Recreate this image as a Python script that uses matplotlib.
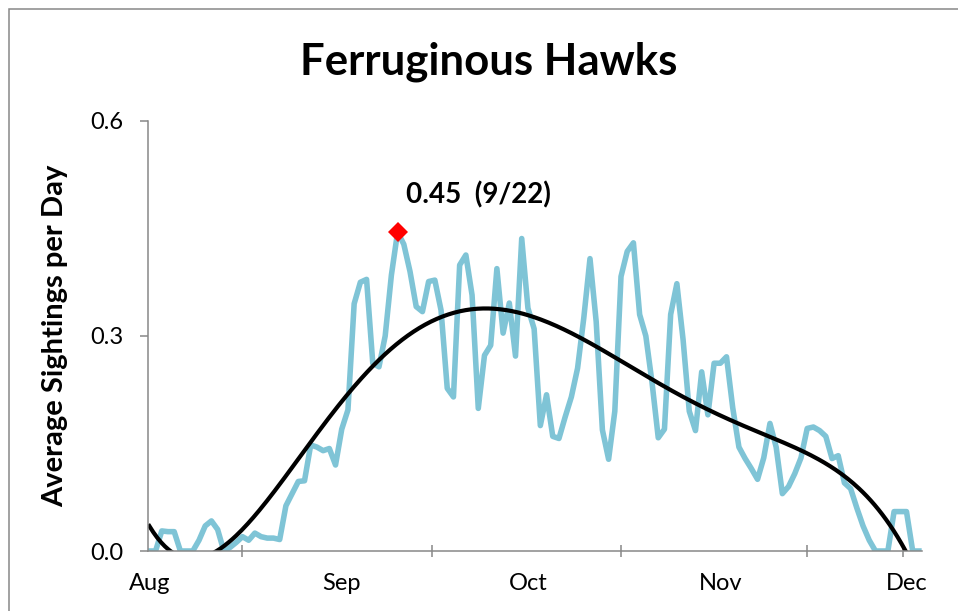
import numpy as np
import matplotlib
matplotlib.use("Agg")
import matplotlib.pyplot as plt
from matplotlib.patches import Rectangle

plt.rcParams['font.family'] = ['Lato', 'DejaVu Sans']

# daily average sightings, Aug 1 .. Dec 3
sightings = [
    0.000, 0.000, 0.028, 0.027, 0.027, 0.000, 0.000, 0.000, 0.015, 0.035,
    0.042, 0.030, 0.000, 0.005, 0.012, 0.020, 0.015, 0.025, 0.020, 0.018,
    0.018, 0.016, 0.063, 0.080, 0.097, 0.098, 0.148, 0.145, 0.140, 0.143,
    0.120, 0.170, 0.197, 0.345, 0.375, 0.379, 0.262, 0.257, 0.300, 0.385,
    0.445, 0.428, 0.390, 0.341, 0.334, 0.376, 0.378, 0.336, 0.227, 0.215,
    0.399, 0.413, 0.357, 0.199, 0.273, 0.287, 0.394, 0.304, 0.346, 0.272,
    0.436, 0.339, 0.310, 0.175, 0.218, 0.160, 0.157, 0.187, 0.215, 0.255,
    0.325, 0.408, 0.320, 0.169, 0.128, 0.195, 0.383, 0.418, 0.430, 0.330,
    0.300, 0.235, 0.158, 0.170, 0.330, 0.373, 0.295, 0.195, 0.168, 0.250,
    0.190, 0.262, 0.262, 0.271, 0.200, 0.145, 0.129, 0.115, 0.100, 0.130,
    0.178, 0.145, 0.080, 0.090, 0.108, 0.130, 0.171, 0.173, 0.168, 0.160,
    0.129, 0.133, 0.095, 0.087, 0.060, 0.035, 0.015, 0.000, 0.000, 0.000,
    0.055, 0.055, 0.055, 0.000, 0.000,
]
days = np.arange(len(sightings))

month_labels = ["Aug", "Sep", "Oct", "Nov", "Dec"]
month_starts = [0, 31, 61, 92, 122]
tick_days = [15, 45.5, 76, 106, 121.5]
peak_label = "0.45  (9/22)"

# polynomial trendline (order 5, like Excel's)
coef = np.polyfit(days, sightings, 5)
trend_x = np.linspace(0, days[-1], 400)
trend_y = np.polyval(coef, trend_x)

fig = plt.figure(figsize=(9.58, 6.11), dpi=100)
ax = fig.add_axes([147.5 / 958, 60 / 611, (922 - 147.5) / 958, 430 / 611])

gray = "#888888"
ax.plot(days, sightings, color="#7FC4D6", lw=4.0)
ax.plot(trend_x, trend_y, color="black", lw=3.0)

peak = int(np.argmax(sightings))
ax.plot(days[peak], sightings[peak], marker="D", color="red", ms=10.5, mew=0)
ax.annotate(peak_label, (days[peak], sightings[peak]), xytext=(6, 27),
            textcoords="offset points", ha="left", va="center",
            fontsize=20, fontweight="bold")

ax.set_xlim(-0.3, 124.5)
ax.set_ylim(0, 0.6)
ax.set_yticks([0, 0.3, 0.6])
ax.set_yticklabels(["0.0", "0.3", "0.6"])
ax.set_xticks(tick_days)
ax.set_xticklabels([])
ax.set_xticks(month_starts, minor=True)
ax.set_xticklabels(month_labels, minor=True)

ax.tick_params(axis="y", direction="out", length=5.5, width=1.1, color=gray,
               labelsize=17, pad=12)
ax.tick_params(axis="x", which="major", direction="inout", length=8.5,
               width=1.1, color=gray)
ax.tick_params(axis="x", which="minor", length=0, labelsize=17, pad=16)

for s in ["top", "right"]:
    ax.spines[s].set_visible(False)
for s in ["left", "bottom"]:
    ax.spines[s].set_color(gray)
    ax.spines[s].set_linewidth(1.1)

ax.set_ylabel("Average Sightings per Day", fontsize=21, fontweight="bold",
              labelpad=16)
fig.text(489 / 958, 1 - 62 / 611, "Ferruginous Hawks", ha="center",
         va="center", fontsize=31.5, fontweight="bold")

# chart area border (only left and top edges visible in the crop)
fig.patches.append(Rectangle((9 / 958, -0.5), 2, 0.5 + 602 / 611,
                             transform=fig.transFigure, fill=False,
                             edgecolor=gray, lw=1.1))

plt.savefig("out.png", dpi=100)
